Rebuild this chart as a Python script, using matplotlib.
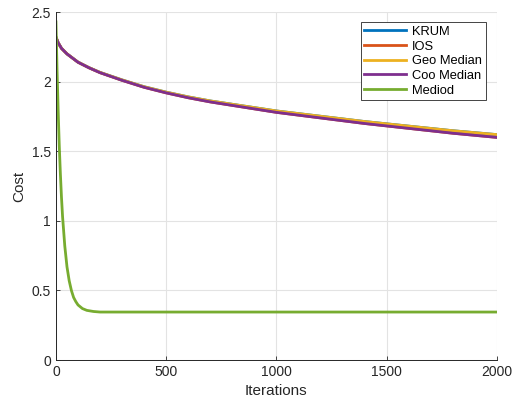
import numpy as np
import matplotlib
matplotlib.use('Agg')
import matplotlib.pyplot as plt

plt.rcParams['font.family'] = ['Liberation Sans', 'DejaVu Sans']

# cost vs. iteration, read at a handful of iterations
iters_slow = [0, 10, 25, 50, 100, 150, 200, 300, 400, 500, 600, 700, 800,
              900, 1000, 1200, 1400, 1600, 1800, 2000]
coo_median = [2.32, 2.28, 2.24, 2.20, 2.14, 2.10, 2.065, 2.01, 1.96, 1.92,
              1.885, 1.855, 1.83, 1.805, 1.78, 1.74, 1.70, 1.665, 1.63, 1.60]
geo_median = [2.32, 2.28, 2.24, 2.20, 2.141, 2.101, 2.067, 2.013, 1.964, 1.925,
              1.891, 1.862, 1.838, 1.814, 1.79, 1.752, 1.714, 1.681, 1.648, 1.62]
krum = geo_median
ios = coo_median

iters_fast = [0, 5, 10, 15, 20, 25, 30, 40, 50, 60, 70, 80, 90, 100, 120,
              140, 170, 200, 500, 1000, 1500, 2000]
mediod = [2.43, 2.08, 1.79, 1.54, 1.34, 1.17, 1.03, 0.82, 0.67, 0.57, 0.50,
          0.45, 0.42, 0.396, 0.370, 0.357, 0.349, 0.345, 0.345, 0.345, 0.345, 0.345]

colors = ['#0072BD', '#D95319', '#EDB120', '#7E2F8E', '#77AC30']
txt = '#262626'

fig = plt.figure(figsize=(5.23, 4.05), dpi=100)
ax = fig.add_axes([0.107, 0.111, 0.843, 0.859])

ax.plot(iters_slow, krum, color=colors[0], lw=2, label='KRUM')
ax.plot(iters_slow, ios, color=colors[1], lw=2, label='IOS')
ax.plot(iters_slow, geo_median, color=colors[2], lw=2, label='Geo Median')
ax.plot(iters_slow, coo_median, color=colors[3], lw=2, label='Coo Median')
ax.plot(iters_fast, mediod, color=colors[4], lw=2, label='Mediod')

ax.set_xlim(0, 2000)
ax.set_ylim(0, 2.5)
ax.set_xticks([0, 500, 1000, 1500, 2000])
ax.set_yticks([0, 0.5, 1, 1.5, 2, 2.5])
ax.set_yticklabels(['0', '0.5', '1', '1.5', '2', '2.5'])
ax.grid(True, color='#e3e3e3', lw=0.8)
ax.set_axisbelow(True)

for s in ['top', 'right']:
    ax.spines[s].set_visible(False)
for s in ['left', 'bottom']:
    ax.spines[s].set_color(txt)
    ax.spines[s].set_linewidth(0.7)
ax.tick_params(direction='in', length=3, width=0.6, colors=txt, labelsize=10)

ax.set_xlabel('Iterations', fontsize=11, color=txt)
ax.set_ylabel('Cost', fontsize=11, color=txt)

leg = ax.legend(loc='upper right', bbox_to_anchor=(0.99, 0.99), fontsize=9.3,
                fancybox=False, framealpha=1, edgecolor=txt, handlelength=3.2,
                borderpad=0.3, labelspacing=0.2, handletextpad=0.5)
leg.get_frame().set_linewidth(0.6)

fig.savefig('out.png', dpi=100)
